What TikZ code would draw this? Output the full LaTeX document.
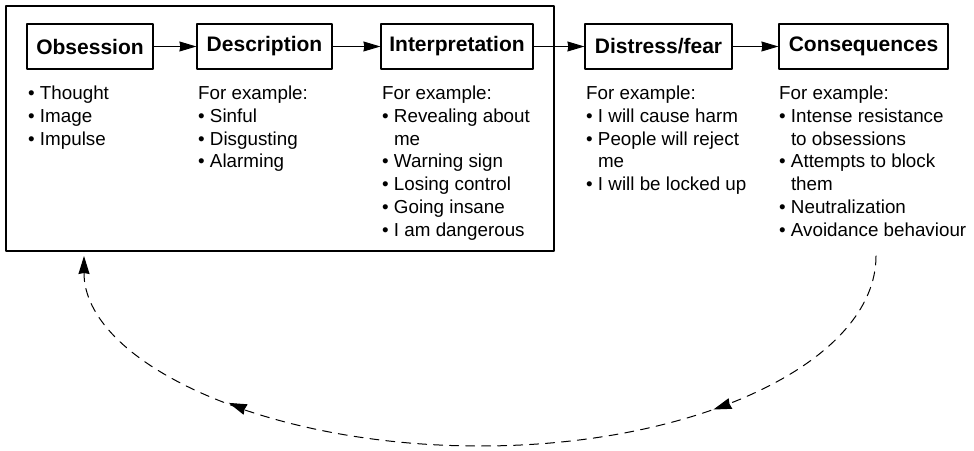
\documentclass[tikz,border=0pt]{standalone}
\usepackage{fontspec}
\setmainfont{Liberation Sans}
\usetikzlibrary{arrows.meta,decorations.markings}
\newcommand{\bul}{\textbullet\ }
\newcommand{\cont}{\hphantom{\textbullet\ }}
\begin{document}
\begin{tikzpicture}[x=1pt,y=1pt,line cap=round,line join=round,
  >={Stealth[length=17pt,width=10pt,inset=1pt]},
  box/.style={draw,line width=1.2pt,minimum height=45pt,inner sep=0pt,
    font=\bfseries\fontsize{21}{24}\selectfont},
  lst/.style={anchor=north west,inner sep=0pt,align=left,
    font=\fontsize{18.8}{22.7}\selectfont},
  flow/.style={->,line width=1pt},
  loopline/.style={line width=1pt,dash pattern=on 9pt off 7pt,
    -{Stealth[length=18pt,width=11pt,inset=1pt]},
    postaction={decorate,decoration={markings,
      mark=at position 0.25 with {\arrow{Stealth[length=18pt,width=11pt,inset=1pt]}},
      mark=at position 0.77 with {\arrow{Stealth[length=18pt,width=11pt,inset=1pt]}}}}}]
\useasboundingbox (0,0) rectangle (974,450);
% the part inside the frame
\draw[line width=1.5pt] (6,444) rectangle (554,199);
\node[box,minimum width=126pt] (obs) at (90,403.5) {Obsession};
\node[box,minimum width=135pt] (desc) at (264.5,403.5) {Description};
\node[box,minimum width=152pt] (interp) at (457,403.5) {Interpretation};
\node[box,minimum width=147pt] (fear) at (658.5,403.5) {Distress/fear};
\node[box,minimum width=169pt] (cons) at (863.5,403.5) {Consequences};
\draw[flow] (obs) -- (desc);
\draw[flow] (desc) -- (interp);
\draw[flow] (interp) -- (fear);
\draw[flow] (fear) -- (cons);
% lists under the boxes
\node[lst] (obsl) at (28,364) {\bul Thought\\ \bul Image\\ \bul Impulse};
\node[lst] (descl) at (198,364) {For example:\\ \bul Sinful\\ \bul Disgusting\\ \bul Alarming};
\node[lst] (interpl) at (382,364) {For example:\\ \bul Revealing about\\ \cont me\\ \bul Warning sign\\
  \bul Losing control\\ \bul Going insane\\ \bul I am dangerous};
\node[lst] (fearl) at (586,364) {For example:\\ \bul I will cause harm\\ \bul People will reject\\ \cont me\\
  \bul I will be locked up};
\node[lst] (consl) at (779,364) {For example:\\ \bul Intense resistance\\ \cont to obsessions\\
  \bul Attempts to block\\ \cont them\\ \bul Neutralization\\ \bul Avoidance behaviour};
% feedback loop
\coordinate (lstart) at (876,194);
\draw[loopline] (lstart) arc[start angle=0,end angle=-180,x radius=396,y radius=190];
\end{tikzpicture}
\end{document}
